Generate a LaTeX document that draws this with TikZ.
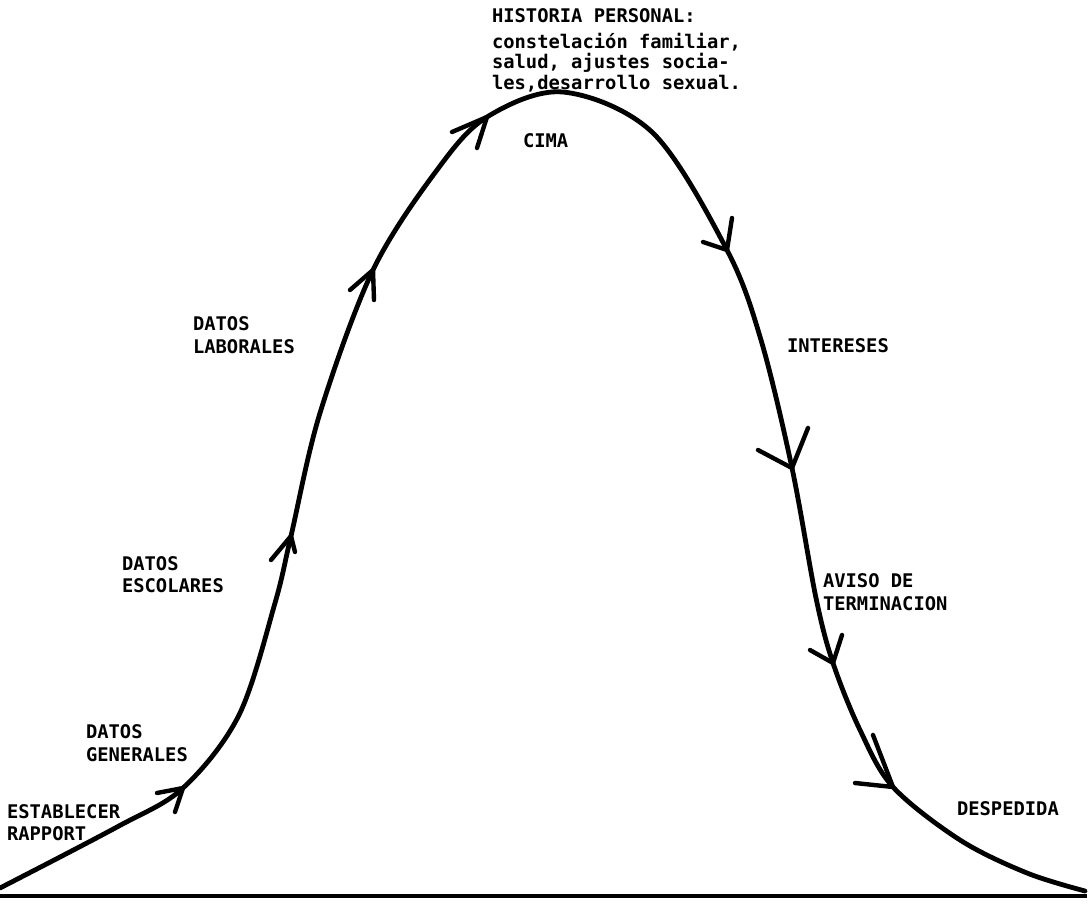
\documentclass[tikz,border=0pt]{standalone}
\usepackage{fontspec}
\newfontfamily\typew{DejaVu Sans Mono}
\begin{document}
\begin{tikzpicture}[x=1pt,y=-1pt,
  curve/.style={line width=4.8pt, line cap=round, line join=round},
  barb/.style={line width=4.4pt, line cap=round, line join=round},
  baseline rule/.style={line width=4pt},
  lbl/.style={anchor=base west, inner sep=0pt, outer sep=0pt, font=\typew\bfseries\fontsize{18.8}{22.5}\selectfont},
]
\useasboundingbox (0,0) rectangle (1092,903);

% curve points
\coordinate (s0) at (0,888);
\coordinate (s1) at (117,827);
\coordinate (t5) at (183,788);
\coordinate (s2) at (239,715);
\coordinate (s3) at (275,603);
\coordinate (t8) at (291,536);
\coordinate (s4) at (320,413);
\coordinate (t7) at (373,270);
\coordinate (s5) at (437,170);
\coordinate (t6) at (487,117);
\coordinate (pk) at (563,92);
\coordinate (s6) at (653,133);
\coordinate (t1) at (727,250);
\coordinate (s7) at (761,340);
\coordinate (t2) at (792,468);
\coordinate (s8) at (816,598);
\coordinate (t3) at (833,663);
\coordinate (s9) at (860,730);
\coordinate (t4) at (893,787);
\coordinate (s10) at (960,840);
\coordinate (s11) at (1027,873);
\coordinate (e) at (1085,891);

\draw[curve] plot[smooth, tension=0.55] coordinates {(s0) (s1) (t5) (s2) (s3) (t8) (s4) (t7) (s5) (t6) (pk) (s6) (t1) (s7) (t2) (s8) (t3) (s9) (t4) (s10) (s11) (e)};

% baseline
\coordinate (b0) at (0,896);
\coordinate (b1) at (1087,896);
\draw[baseline rule] (b0) -- (b1);

% arrow barbs
\coordinate (t5a) at (157,793); \coordinate (t5b) at (175,812);
\coordinate (t8a) at (271,560); \coordinate (t8b) at (295,552);
\coordinate (t7a) at (350,290); \coordinate (t7b) at (374,300);
\coordinate (t6a) at (452,132); \coordinate (t6b) at (477,148);
\coordinate (t1a) at (732,218); \coordinate (t1b) at (703,242);
\coordinate (t2a) at (808,428); \coordinate (t2b) at (758,450);
\coordinate (t3a) at (842,635); \coordinate (t3b) at (810,650);
\coordinate (t4a) at (873,735); \coordinate (t4b) at (855,783);
\draw[barb] (t5a) -- (t5) -- (t5b);
\draw[barb] (t8a) -- (t8) -- (t8b);
\draw[barb] (t7a) -- (t7) -- (t7b);
\draw[barb] (t6a) -- (t6) -- (t6b);
\draw[barb] (t1a) -- (t1) -- (t1b);
\draw[barb] (t2a) -- (t2) -- (t2b);
\draw[barb] (t3a) -- (t3) -- (t3b);
\draw[barb] (t4a) -- (t4) -- (t4b);

% labels
\node[lbl] (h1) at (492,22) {HISTORIA PERSONAL:};
\node[lbl] (h2) at (492,48) {constelación familiar,};
\node[lbl] (h3) at (492,68.5) {salud, ajustes socia-};
\node[lbl] (h4) at (492,89) {les,desarrollo sexual.};
\node[lbl] (cima) at (523,147) {CIMA};
\node[lbl] (lab1) at (193,330) {DATOS};
\node[lbl] (lab2) at (193,353) {LABORALES};
\node[lbl] (esc1) at (122,570) {DATOS};
\node[lbl] (esc2) at (122,592) {ESCOLARES};
\node[lbl] (gen1) at (86,738) {DATOS};
\node[lbl] (gen2) at (86,761) {GENERALES};
\node[lbl] (est1) at (7,818) {ESTABLECER};
\node[lbl] (est2) at (7,840) {RAPPORT};
\node[lbl] (int) at (787,352) {INTERESES};
\node[lbl] (av1) at (823,587) {AVISO DE};
\node[lbl] (av2) at (823,610) {TERMINACION};
\node[lbl] (desp) at (957,815) {DESPEDIDA};
\end{tikzpicture}
\end{document}
